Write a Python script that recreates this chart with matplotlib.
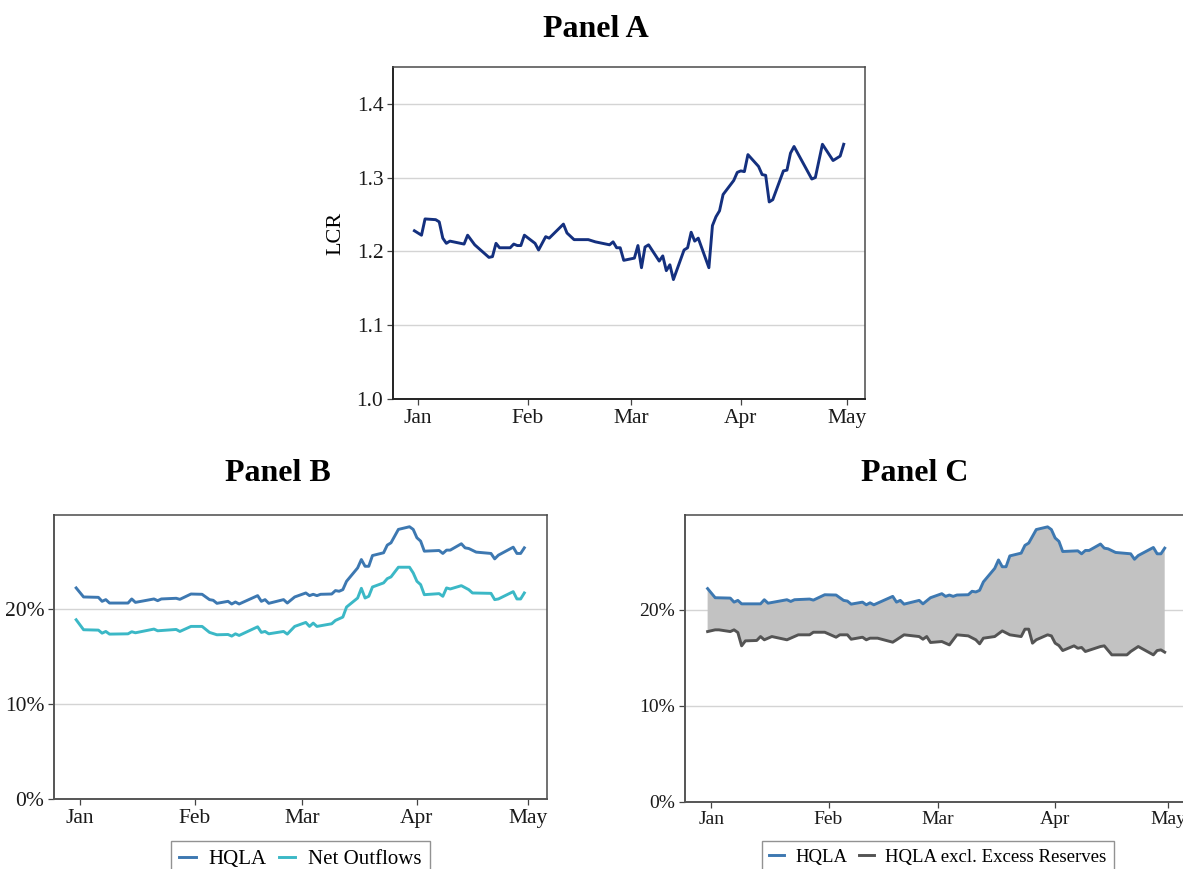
import numpy as np
import pandas as pd
import matplotlib
matplotlib.use("Agg")
import matplotlib.pyplot as plt
import matplotlib.dates as mdates
from matplotlib.ticker import FuncFormatter

plt.rcParams['font.family'] = ['Liberation Serif', 'DejaVu Serif']

# Panel A: liquidity coverage ratio
lcr_dates = ["2019-12-31", "2020-01-02", "2020-01-03", "2020-01-06", "2020-01-07", "2020-01-08",
             "2020-01-09", "2020-01-10", "2020-01-14", "2020-01-15", "2020-01-17", "2020-01-21",
             "2020-01-22", "2020-01-23", "2020-01-24", "2020-01-27", "2020-01-28", "2020-01-29",
             "2020-01-30", "2020-01-31", "2020-02-03", "2020-02-04", "2020-02-06", "2020-02-07",
             "2020-02-11", "2020-02-12", "2020-02-14", "2020-02-18", "2020-02-20", "2020-02-24",
             "2020-02-25", "2020-02-26", "2020-02-27", "2020-02-28", "2020-03-02", "2020-03-03",
             "2020-03-04", "2020-03-05", "2020-03-06", "2020-03-09", "2020-03-10", "2020-03-11",
             "2020-03-12", "2020-03-13", "2020-03-16", "2020-03-17", "2020-03-18", "2020-03-19",
             "2020-03-20", "2020-03-23", "2020-03-24", "2020-03-25", "2020-03-26", "2020-03-27",
             "2020-03-30", "2020-03-31", "2020-04-01", "2020-04-02", "2020-04-03", "2020-04-06",
             "2020-04-07", "2020-04-08", "2020-04-09", "2020-04-10", "2020-04-13", "2020-04-14",
             "2020-04-15", "2020-04-16", "2020-04-21", "2020-04-22", "2020-04-24", "2020-04-27",
             "2020-04-29", "2020-04-30"]
lcr = [1.228, 1.222, 1.244, 1.243, 1.240, 1.218, 1.211, 1.214, 1.210, 1.222, 1.209, 1.192,
       1.193, 1.211, 1.205, 1.205, 1.210, 1.208, 1.208, 1.222, 1.211, 1.202, 1.220, 1.218,
       1.237, 1.225, 1.216, 1.216, 1.213, 1.209, 1.213, 1.205, 1.205, 1.188, 1.191, 1.208,
       1.178, 1.206, 1.209, 1.187, 1.194, 1.174, 1.182, 1.162, 1.202, 1.205, 1.226, 1.214,
       1.218, 1.178, 1.235, 1.247, 1.255, 1.277, 1.296, 1.307, 1.309, 1.308, 1.331, 1.315,
       1.304, 1.303, 1.267, 1.270, 1.309, 1.310, 1.333, 1.342, 1.298, 1.300, 1.345, 1.323,
       1.329, 1.345]

# HQLA as share of assets (panels B and C)
hqla_dates = ["2019-12-31", "2020-01-02", "2020-01-06", "2020-01-07", "2020-01-08", "2020-01-09",
              "2020-01-14", "2020-01-15", "2020-01-16", "2020-01-21", "2020-01-22", "2020-01-23",
              "2020-01-27", "2020-01-28", "2020-01-31", "2020-02-03", "2020-02-05", "2020-02-06",
              "2020-02-07", "2020-02-10", "2020-02-11", "2020-02-12", "2020-02-13", "2020-02-18",
              "2020-02-19", "2020-02-20", "2020-02-21", "2020-02-25", "2020-02-26", "2020-02-28",
              "2020-03-02", "2020-03-03", "2020-03-04", "2020-03-05", "2020-03-06", "2020-03-09",
              "2020-03-10", "2020-03-11", "2020-03-12", "2020-03-13", "2020-03-16", "2020-03-17",
              "2020-03-18", "2020-03-19", "2020-03-20", "2020-03-23", "2020-03-24", "2020-03-25",
              "2020-03-27", "2020-03-30", "2020-03-31", "2020-04-01", "2020-04-02", "2020-04-03",
              "2020-04-07", "2020-04-08", "2020-04-09", "2020-04-10", "2020-04-13", "2020-04-14",
              "2020-04-15", "2020-04-17", "2020-04-21", "2020-04-22", "2020-04-23", "2020-04-27",
              "2020-04-28", "2020-04-29", "2020-04-30"]
hqla = [22.22, 21.27, 21.23, 20.81, 20.99, 20.63, 20.63, 21.06, 20.70, 21.06, 20.88, 21.06,
        21.13, 21.02, 21.58, 21.55, 20.99, 20.92, 20.60, 20.81, 20.53, 20.74, 20.53, 21.41,
        20.81, 20.99, 20.60, 20.99, 20.63, 21.27, 21.69, 21.41, 21.55, 21.41, 21.55, 21.58,
        21.94, 21.87, 22.04, 22.92, 24.33, 25.21, 24.50, 24.50, 25.63, 25.92, 26.73, 26.97,
        28.38, 28.66, 28.38, 27.50, 27.15, 26.09, 26.16, 25.85, 26.20, 26.20, 26.87, 26.44,
        26.37, 25.99, 25.85, 25.28, 25.67, 26.51, 25.85, 25.85, 26.44]

# Panel B: net cash outflows as share of assets
outflow_dates = ["2019-12-31", "2020-01-02", "2020-01-06", "2020-01-07", "2020-01-08", "2020-01-09",
                 "2020-01-14", "2020-01-15", "2020-01-16", "2020-01-21", "2020-01-22", "2020-01-27",
                 "2020-01-28", "2020-01-31", "2020-02-03", "2020-02-05", "2020-02-07", "2020-02-10",
                 "2020-02-11", "2020-02-12", "2020-02-13", "2020-02-18", "2020-02-19", "2020-02-20",
                 "2020-02-21", "2020-02-25", "2020-02-26", "2020-02-28", "2020-03-02", "2020-03-03",
                 "2020-03-04", "2020-03-05", "2020-03-09", "2020-03-10", "2020-03-12", "2020-03-13",
                 "2020-03-16", "2020-03-17", "2020-03-18", "2020-03-19", "2020-03-20", "2020-03-23",
                 "2020-03-24", "2020-03-25", "2020-03-27", "2020-03-30", "2020-03-31", "2020-04-01",
                 "2020-04-02", "2020-04-03", "2020-04-07", "2020-04-08", "2020-04-09", "2020-04-10",
                 "2020-04-13", "2020-04-15", "2020-04-16", "2020-04-21", "2020-04-22", "2020-04-23",
                 "2020-04-27", "2020-04-28", "2020-04-29", "2020-04-30"]
outflows = [18.87, 17.82, 17.78, 17.46, 17.64, 17.36, 17.39, 17.61, 17.50, 17.89, 17.71, 17.85,
            17.64, 18.17, 18.17, 17.54, 17.29, 17.32, 17.15, 17.39, 17.22, 18.13, 17.54, 17.64,
            17.39, 17.64, 17.36, 18.17, 18.59, 18.17, 18.52, 18.17, 18.45, 18.80, 19.15, 20.21,
            21.16, 22.18, 21.16, 21.34, 22.32, 22.75, 23.20, 23.38, 24.40, 24.40, 23.80, 22.92,
            22.57, 21.51, 21.62, 21.34, 22.22, 22.11, 22.46, 22.04, 21.69, 21.65, 20.99, 21.06,
            21.83, 21.06, 21.06, 21.69]

# Panel C: HQLA excluding excess reserves
excl_dates = ["2019-12-31", "2020-01-02", "2020-01-03", "2020-01-06", "2020-01-07", "2020-01-08",
              "2020-01-09", "2020-01-10", "2020-01-13", "2020-01-14", "2020-01-15", "2020-01-17",
              "2020-01-21", "2020-01-24", "2020-01-27", "2020-01-28", "2020-01-31", "2020-02-03",
              "2020-02-04", "2020-02-06", "2020-02-07", "2020-02-10", "2020-02-11", "2020-02-12",
              "2020-02-14", "2020-02-18", "2020-02-19", "2020-02-21", "2020-02-25", "2020-02-26",
              "2020-02-27", "2020-02-28", "2020-03-02", "2020-03-04", "2020-03-06", "2020-03-09",
              "2020-03-11", "2020-03-12", "2020-03-13", "2020-03-16", "2020-03-18", "2020-03-20",
              "2020-03-23", "2020-03-24", "2020-03-25", "2020-03-26", "2020-03-27", "2020-03-30",
              "2020-03-31", "2020-04-01", "2020-04-02", "2020-04-03", "2020-04-06", "2020-04-07",
              "2020-04-08", "2020-04-09", "2020-04-13", "2020-04-14", "2020-04-16", "2020-04-20",
              "2020-04-21", "2020-04-23", "2020-04-27", "2020-04-28", "2020-04-29", "2020-04-30"]
hqla_excl = [17.74, 17.92, 17.92, 17.74, 17.92, 17.64, 16.25, 16.77, 16.81, 17.22, 16.88, 17.22,
             16.88, 17.40, 17.40, 17.67, 17.67, 17.15, 17.40, 17.40, 16.94, 17.15, 16.88, 17.05,
             17.05, 16.63, 16.88, 17.40, 17.22, 16.94, 17.22, 16.60, 16.70, 16.35, 17.40, 17.29,
             16.88, 16.46, 17.05, 17.22, 17.81, 17.40, 17.22, 17.99, 17.99, 16.53, 16.88, 17.40,
             17.29, 16.53, 16.28, 15.76, 16.25, 16.00, 16.08, 15.66, 16.18, 16.25, 15.31, 15.31,
             15.66, 16.18, 15.31, 15.76, 15.83, 15.59]

navy = "#14307f"
blue = "#3d78b1"
teal = "#3bb8c6"
dark = "#545454"


def style_axes(ax, spine_color="#333333", labelsize=15.5):
    ax.set_xlim(pd.Timestamp("2019-12-25"), pd.Timestamp("2020-05-06"))
    ax.xaxis.set_major_locator(mdates.MonthLocator())
    ax.xaxis.set_major_formatter(mdates.DateFormatter("%b"))
    ax.grid(axis="y", color="#d4d4d4", linewidth=1.0)
    ax.set_axisbelow(True)
    for s in ax.spines.values():
        s.set_color("#4a4a4a")
        s.set_linewidth(1.1)
    ax.spines["left"].set_color(spine_color)
    ax.spines["bottom"].set_color(spine_color)
    ax.spines["left"].set_linewidth(1.4)
    ax.spines["bottom"].set_linewidth(1.4)
    ax.tick_params(axis="both", labelsize=labelsize, length=4, width=0.9, color="#444444",
                   labelcolor="#1a1a1a", pad=3)


fig = plt.figure(figsize=(11.83, 8.69), dpi=100)

# --- Panel A ---
axA = fig.add_axes([0.3323, 0.5405, 0.3989, 0.3828])
axA.plot(pd.to_datetime(lcr_dates), lcr, color=navy, linewidth=2.1)
style_axes(axA, "#222222")
axA.set_ylim(1.0, 1.45)
axA.set_yticks([1.0, 1.1, 1.2, 1.3, 1.4])
axA.yaxis.set_major_formatter(FuncFormatter(lambda v, p: f"{v:.1f}"))
axA.set_ylabel("LCR", fontsize=16, labelpad=8)
fig.text(0.5035, 0.966, "Panel A", ha="center", va="center", fontsize=23, fontweight="bold")

pct = FuncFormatter(lambda v, p: f"{v:.0f}%")
legend_kw = dict(loc="upper center", ncol=2, frameon=True, fancybox=False,
                 edgecolor="#777777", handlelength=0.8, handletextpad=0.6,
                 columnspacing=0.6, borderpad=0.4)

# --- Panel B ---
axB = fig.add_axes([0.0456, 0.0805, 0.4164, 0.3269])
axB.plot(pd.to_datetime(hqla_dates), hqla, color=blue, linewidth=2.1, label="HQLA")
axB.plot(pd.to_datetime(outflow_dates), outflows, color=teal, linewidth=2.1, label="Net Outflows")
style_axes(axB, "#555555")
axB.set_ylim(0, 29.9)
axB.set_yticks([0, 10, 20])
axB.yaxis.set_major_formatter(pct)
fig.text(0.235, 0.455, "Panel B", ha="center", va="center", fontsize=23, fontweight="bold")
axB.legend(bbox_to_anchor=(0.5, -0.112), fontsize=15, **legend_kw)

# --- Panel C ---
axC = fig.add_axes([0.5790, 0.0775, 0.4215, 0.3299])
hq_x = pd.to_datetime(hqla_dates)
ex_x = pd.to_datetime(excl_dates)
axC.fill(np.concatenate([hq_x.values, ex_x.values[::-1]]),
         np.concatenate([hqla, hqla_excl[::-1]]),
         color="#c2c2c2", linewidth=0)
axC.plot(hq_x, hqla, color=blue, linewidth=2.1, label="HQLA")
axC.plot(ex_x, hqla_excl, color=dark, linewidth=2.1, label="HQLA excl. Excess Reserves")
style_axes(axC, "#555555", labelsize=14)
axC.set_xlim(pd.Timestamp("2019-12-25"), pd.Timestamp("2020-05-05"))
axC.set_ylim(0, 29.9)
axC.set_yticks([0, 10, 20])
axC.yaxis.set_major_formatter(pct)
fig.text(0.7735, 0.455, "Panel C", ha="center", va="center", fontsize=23, fontweight="bold")
axC.legend(bbox_to_anchor=(0.507, -0.105), fontsize=13.5, **legend_kw)

fig.savefig("out.png", dpi=100, facecolor="white")
